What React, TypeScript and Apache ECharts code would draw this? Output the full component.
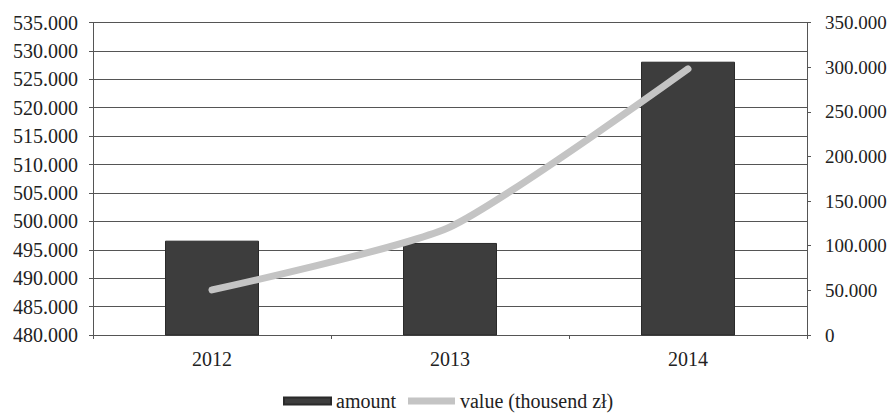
import React, { useEffect, useRef } from "react";
import * as echarts from "echarts";

const years = ["2012", "2013", "2014"];
const amount = [496600, 496200, 528100];
const valueThousand = [50500, 121000, 298000];
const seriesNames = ["amount", "value (thousend zł)"];

function fmt(v: number): string {
  if (v === 0) return "0";
  const s = String(Math.round(v));
  return s.replace(/\B(?=(\d{3})+(?!\d))/g, ".");
}

export default function App() {
  const ref = useRef<HTMLDivElement>(null);
  useEffect(() => {
    if (!ref.current) return;
    const chart = echarts.init(ref.current, null, { renderer: "svg" });
    const font = "Times New Roman, Liberation Serif, serif";
    chart.setOption({
      animation: false,
      backgroundColor: "#ffffff",
      textStyle: { fontFamily: font },
      grid: { left: 93, right: 86, top: 22.5, bottom: 81, containLabel: false },
      legend: {
        left: 278,
        top: 386,
        itemWidth: 47,
        itemHeight: 7,
        itemGap: 12,
        icon: "rect",
        textStyle: { fontFamily: font, fontSize: 20, color: "#222" },
        data: [
          { name: seriesNames[0], itemStyle: { color: "#3d3d3d" } },
          { name: seriesNames[1], itemStyle: { color: "#c4c4c4" } },
        ],
      },
      xAxis: {
        type: "category",
        data: years,
        axisLine: { lineStyle: { color: "#555", width: 1 } },
        axisTick: { show: true, length: 4, lineStyle: { color: "#555" } },
        axisLabel: { fontFamily: font, fontSize: 20, color: "#222", margin: 14 },
      },
      yAxis: [
        {
          type: "value",
          min: 480000,
          max: 535000,
          interval: 5000,
          axisLine: { show: true, lineStyle: { color: "#555", width: 1 } },
          axisTick: { show: true, length: 4, lineStyle: { color: "#555" } },
          splitLine: { show: true, lineStyle: { color: "#555", width: 1 } },
          axisLabel: {
            fontFamily: font,
            fontSize: 20,
            color: "#222",
            margin: 15,
            formatter: (v: number) => fmt(v),
          },
        },
        {
          type: "value",
          min: 0,
          max: 350000,
          interval: 50000,
          position: "right",
          axisLine: { show: true, lineStyle: { color: "#555", width: 1 } },
          axisTick: { show: true, length: 4, lineStyle: { color: "#555" } },
          splitLine: { show: false },
          axisLabel: {
            fontFamily: font,
            fontSize: 19,
            color: "#222",
            margin: 18,
            formatter: (v: number) => fmt(v),
          },
        },
      ],
      series: [
        {
          name: seriesNames[0],
          type: "bar",
          yAxisIndex: 0,
          data: amount,
          barWidth: 94,
          itemStyle: { color: "#3d3d3d", borderColor: "#2a2a2a", borderWidth: 1 },
        },
        {
          name: seriesNames[1],
          type: "line",
          yAxisIndex: 1,
          data: valueThousand,
          smooth: 0.2,
          showSymbol: false,
          symbol: "none",
          lineStyle: { color: "#c4c4c4", width: 7, cap: "round" },
          itemStyle: { color: "#c4c4c4" },
        },
      ],
    });
    return () => chart.dispose();
  }, []);
  return <div ref={ref} style={{ width: 893, height: 416, position: "absolute", left: 0, top: 0 }} />;
}
